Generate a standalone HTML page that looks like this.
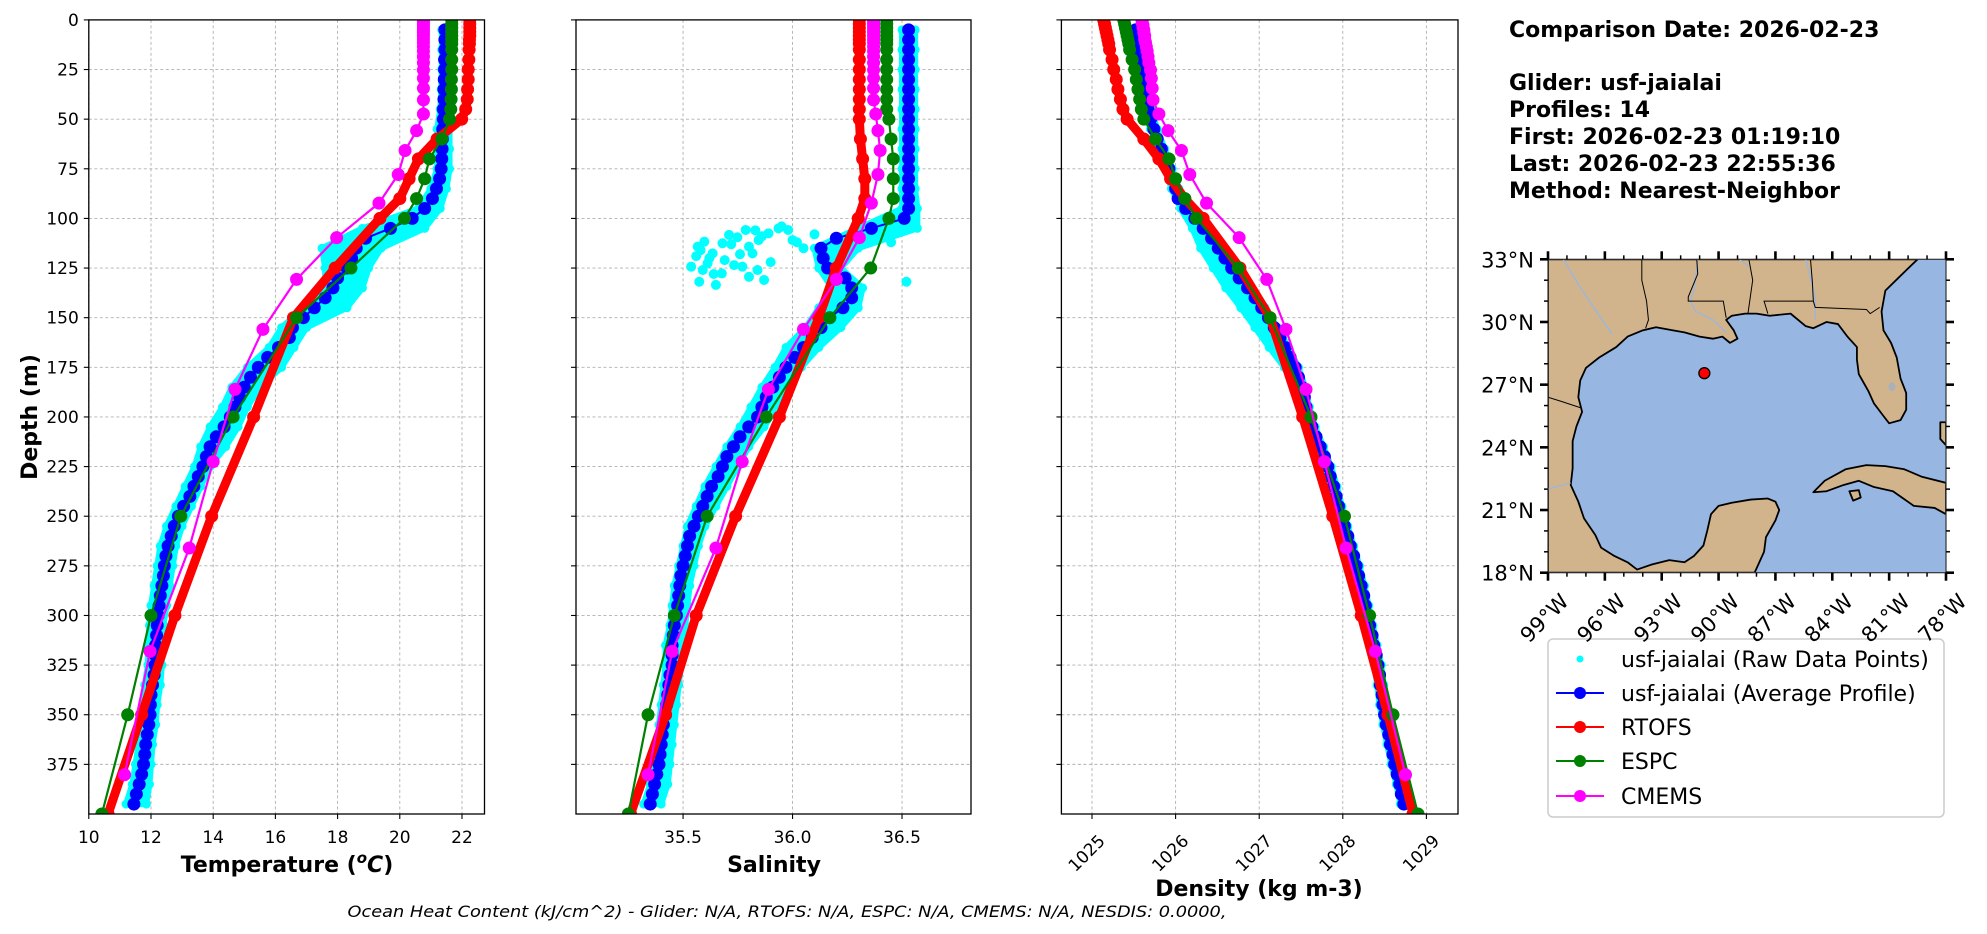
<!DOCTYPE html>
<html><head><meta charset="utf-8"><title>Glider vs model profiles</title>
<style>
html,body{margin:0;padding:0;background:#fff;}
svg{display:block;font-family:"DejaVu Sans","Liberation Sans",sans-serif;}
</style></head>
<body>
<svg id="chart" xmlns="http://www.w3.org/2000/svg" width="1987" height="934" viewBox="0 0 1987 934">
<rect x="0" y="0" width="1987" height="934" fill="#fff"/>
<g font-weight="bold" font-size="22" fill="#000">
<text x="1509" y="37">Comparison Date: 2026-02-23</text>
<text x="1509" y="90">Glider: usf-jaialai</text>
<text x="1509" y="117">Profiles: 14</text>
<text x="1509" y="144">First: 2026-02-23 01:19:10</text>
<text x="1509" y="171">Last: 2026-02-23 22:55:36</text>
<text x="1509" y="198">Method: Nearest-Neighbor</text>
</g>
<text x="787" y="917" text-anchor="middle" font-size="16" font-style="italic" textLength="879" lengthAdjust="spacingAndGlyphs">Ocean Heat Content (kJ/cm^2) - Glider: N/A,  RTOFS: N/A,  ESPC: N/A,  CMEMS: N/A,  NESDIS: 0.0000,</text>
<text transform="translate(37,417) rotate(-90)" text-anchor="middle" font-size="22" font-weight="bold">Depth (m)</text>
<text x="287" y="872" text-anchor="middle" font-size="22" font-weight="bold">Temperature (<tspan font-style="italic" font-size="15" dy="-9">o</tspan><tspan font-style="italic" dy="9">C</tspan>)</text>
<text x="774" y="872" text-anchor="middle" font-size="22" font-weight="bold">Salinity</text>
<text x="1259" y="896" text-anchor="middle" font-size="22" font-weight="bold">Density (kg m-3)</text>
<g>
<rect x="1548" y="639" width="396" height="178" rx="5" fill="#fff" stroke="#ccc" stroke-width="1.5"/>
<g><circle cx="1580" cy="659" r="3.5" fill="#00ffff"/><text x="1621" y="667" font-size="22">usf-jaialai (Raw Data Points)</text></g>
<g><line x1="1556" y1="693" x2="1604" y2="693" stroke="#0000ff" stroke-width="2"/><circle cx="1580" cy="693" r="6" fill="#0000ff"/><text x="1621" y="701" font-size="22">usf-jaialai (Average Profile)</text></g>
<g><line x1="1556" y1="727" x2="1604" y2="727" stroke="#ff0000" stroke-width="2"/><circle cx="1580" cy="727" r="6" fill="#ff0000"/><text x="1621" y="735" font-size="22">RTOFS</text></g>
<g><line x1="1556" y1="761" x2="1604" y2="761" stroke="#008000" stroke-width="2"/><circle cx="1580" cy="761" r="6" fill="#008000"/><text x="1621" y="769" font-size="22">ESPC</text></g>
<g><line x1="1556" y1="796" x2="1604" y2="796" stroke="#ff00ff" stroke-width="2"/><circle cx="1580" cy="796" r="6" fill="#ff00ff"/><text x="1621" y="804" font-size="22">CMEMS</text></g>
</g>
</svg>
<script>
// ---------- data ----------
const gliderDepth = [5,10,15,20,25,30,35,40,45,50,55,60,65,70,75,80,85,90,95,100,105,110,115,120,125,130,135,140,145,150,155,160,165,170,175,180,185,190,195,200,205,210,215,220,225,230,235,240,245,250,255,260,265,270,275,280,285,290,295,300,305,310,315,320,325,330,335,340,345,350,355,360,365,370,375,380,385,390,395];
const gliderTemp = [21.45,21.45,21.45,21.44,21.44,21.43,21.42,21.42,21.40,21.40,
21.38,21.37,21.36,21.35,21.33,21.28,21.18,21.05,20.8,20.4,
19.7,18.9,18.6,18.45,18.3,18.0,17.85,17.6,17.25,16.9,
16.55,16.45,16.1,15.75,15.45,15.2,15.0,14.85,14.7,14.55,
14.35,14.1,13.9,13.78,13.67,13.52,13.38,13.25,13.05,12.88,
12.75,12.65,12.55,12.48,12.43,12.4,12.35,12.3,12.26,12.23,
12.2,12.18,12.15,12.14,12.13,12.1,12.05,12.0,11.98,11.97,
11.93,11.88,11.83,11.8,11.76,11.7,11.62,11.53,11.45];
const gliderSal = [36.53,36.53,36.53,36.53,36.53,36.53,36.53,36.53,36.53,36.53,
36.53,36.53,36.53,36.53,36.53,36.53,36.53,36.53,36.53,36.51,
36.36,36.20,36.13,36.14,36.16,36.24,36.27,36.27,36.23,36.17,
36.13,36.09,36.05,36.01,35.97,35.94,35.91,35.88,35.86,35.84,
35.80,35.76,35.73,35.70,35.68,35.66,35.63,35.61,35.59,35.57,
35.55,35.53,35.52,35.51,35.50,35.49,35.485,35.48,35.475,35.47,
35.46,35.455,35.45,35.45,35.45,35.44,35.435,35.43,35.425,35.42,
35.41,35.405,35.40,35.395,35.39,35.38,35.37,35.36,35.35];
const gliderDens = [1025.52,1025.53,1025.54,1025.56,1025.58,1025.60,1025.62,1025.64,1025.67,1025.70,
1025.74,1025.78,1025.83,1025.88,1025.92,1025.96,1026.00,1026.03,1026.12,1026.23,
1026.33,1026.43,1026.51,1026.59,1026.67,1026.76,1026.86,1026.95,1027.03,1027.11,
1027.18,1027.25,1027.31,1027.37,1027.43,1027.47,1027.51,1027.54,1027.56,1027.58,
1027.63,1027.68,1027.73,1027.78,1027.82,1027.85,1027.89,1027.92,1027.95,1027.98,
1028.02,1028.06,1028.09,1028.13,1028.16,1028.19,1028.22,1028.25,1028.27,1028.30,
1028.32,1028.35,1028.37,1028.40,1028.42,1028.44,1028.45,1028.47,1028.48,1028.50,
1028.52,1028.55,1028.57,1028.60,1028.62,1028.65,1028.68,1028.70,1028.73];

const rawDepth = [5,15,25,35,45,55,65,75,85,95,105,115,125,135,145,155,165,175,185,195,205,215,225,235,245,255,265,275,285,295,305,315,325,335,345,355,365,375,385,395];
const rawTempLo = [21.35,21.35,21.35,21.33,21.3,21.2,21.2,21.2,21.0,20.6,18.8,17.5,17.6,17.6,16.9,16.2,15.8,15.1,14.6,14.3,13.9,13.6,13.4,13.1,12.8,12.5,12.3,12.2,12.1,12.0,11.95,11.9,11.9,11.8,11.75,11.7,11.6,11.5,11.4,11.2];
const rawTempHi = [21.6,21.6,21.6,21.6,21.6,21.6,21.6,21.6,21.5,21.3,20.8,19.4,19.0,18.8,18.3,17.0,16.6,16.2,15.5,15.1,14.8,14.4,13.9,13.6,13.3,13.0,12.8,12.7,12.6,12.5,12.4,12.35,12.35,12.3,12.2,12.15,12.05,12.0,11.95,11.85];
const rawSalLo = [36.50,36.50,36.50,36.50,36.50,36.50,36.50,36.50,36.50,36.50,36.3,36.1,36.12,36.18,36.12,36.06,35.97,35.92,35.86,35.81,35.76,35.7,35.65,35.6,35.56,35.52,35.5,35.48,35.46,35.45,35.44,35.42,35.42,35.41,35.4,35.39,35.38,35.37,35.35,35.32];
const rawSalHi = [36.56,36.56,36.56,36.56,36.56,36.56,36.56,36.56,36.56,36.57,36.57,36.3,36.22,36.32,36.3,36.22,36.12,36.04,35.98,35.93,35.87,35.8,35.75,35.7,35.65,35.6,35.57,35.55,35.53,35.52,35.51,35.49,35.49,35.48,35.47,35.46,35.45,35.44,35.43,35.4];
const rawSalOutDepth = [114.2,111.7,122.6,131.9,133.5,112.5,127.7,109.5,105.8,114.2,117.6,124.3,123.5,129.4,131,110.9,107.5,105,105.8,110.9,124.3,117.6,108.3,131.9,119,126,116,120,113,128,121,106,109,118,126,104,112,122,115,108,112];
const rawSalOutVal = [35.567,35.597,35.612,35.574,35.65,35.68,35.677,35.748,35.786,35.801,35.817,35.771,35.733,35.801,35.87,35.845,35.89,35.936,35.98,36.0,35.537,35.635,35.71,36.52,35.56,35.59,35.58,35.62,35.72,35.64,35.69,35.83,35.86,35.76,35.84,35.95,36.02,35.9,36.05,36.1,36.45];
const rawDensLo = [1025.48,1025.5,1025.54,1025.58,1025.63,1025.7,1025.79,1025.88,1025.95,1026.06,1026.2,1026.3,1026.45,1026.6,1026.78,1026.95,1027.12,1027.3,1027.42,1027.5,1027.58,1027.69,1027.78,1027.85,1027.91,1027.98,1028.05,1028.12,1028.18,1028.23,1028.28,1028.33,1028.38,1028.41,1028.44,1028.48,1028.53,1028.58,1028.64,1028.69];
const rawDensHi = [1025.56,1025.58,1025.62,1025.66,1025.71,1025.78,1025.87,1025.96,1026.04,1026.16,1026.38,1026.55,1026.72,1026.9,1027.07,1027.22,1027.35,1027.47,1027.55,1027.6,1027.67,1027.77,1027.86,1027.93,1027.99,1028.06,1028.13,1028.2,1028.26,1028.31,1028.36,1028.41,1028.46,1028.49,1028.52,1028.56,1028.61,1028.66,1028.72,1028.77];

const modelDepth = [0,2,4,6,8,10,12,15,20,25,30,35,40,45,50,60,70,80,90,100,125,150,200,250,300,350,400];
const rtofsTemp = [22.25,22.25,22.25,22.25,22.25,22.24,22.24,22.23,22.22,22.2,22.2,22.18,22.17,22.12,21.99,21.2,20.6,20.3,20.0,19.36,17.92,16.58,15.3,13.95,12.77,11.7,10.62];
const rtofsSal = [36.305,36.305,36.305,36.305,36.305,36.305,36.305,36.305,36.305,36.305,36.305,36.305,36.305,36.305,36.305,36.31,36.32,36.33,36.33,36.30,36.20,36.12,35.94,35.74,35.56,35.42,35.26];
const rtofsDens = [1025.14,1025.15,1025.16,1025.17,1025.18,1025.19,1025.2,1025.21,1025.24,1025.26,1025.29,1025.31,1025.34,1025.37,1025.42,1025.62,1025.80,1025.94,1026.11,1026.33,1026.77,1027.13,1027.52,1027.88,1028.22,1028.54,1028.84];
const espcTemp = [21.67,21.67,21.67,21.67,21.67,21.67,21.67,21.67,21.67,21.67,21.66,21.66,21.65,21.64,21.6,21.35,20.95,20.8,20.54,20.15,18.43,16.68,14.64,12.96,12.0,11.25,10.42];
const espcSal = [36.43,36.43,36.43,36.43,36.43,36.43,36.43,36.43,36.43,36.43,36.43,36.43,36.43,36.43,36.44,36.45,36.46,36.46,36.46,36.44,36.357,36.17,35.88,35.61,35.46,35.34,35.25];
const espcDens = [1025.38,1025.39,1025.40,1025.41,1025.42,1025.43,1025.44,1025.45,1025.48,1025.51,1025.53,1025.55,1025.57,1025.59,1025.62,1025.76,1025.92,1026.0,1026.11,1026.25,1026.75,1027.13,1027.62,1028.02,1028.32,1028.60,1028.90];
const cmemsDepth = [0.5,1.5,2.6,3.8,5.1,6.4,7.9,9.6,11.4,13.5,15.8,18.5,21.6,25.2,29.4,34.4,40.3,47.4,55.8,65.8,77.9,92.3,109.7,130.7,155.9,186.1,222.5,266.0,318.1,380.2];
const cmemsTemp = [20.76,20.76,20.76,20.76,20.76,20.76,20.76,20.76,20.76,20.76,20.76,20.76,20.76,20.76,20.76,20.76,20.76,20.76,20.54,20.17,19.95,19.33,17.97,16.68,15.6,14.7,14.0,13.23,11.97,11.15];
const cmemsSal = [36.37,36.37,36.37,36.37,36.37,36.37,36.37,36.37,36.37,36.37,36.37,36.37,36.37,36.37,36.37,36.37,36.37,36.38,36.39,36.40,36.39,36.36,36.305,36.20,36.05,35.89,35.77,35.65,35.45,35.34];
const cmemsDens = [1025.60,1025.60,1025.61,1025.61,1025.62,1025.62,1025.63,1025.63,1025.64,1025.65,1025.66,1025.67,1025.68,1025.70,1025.71,1025.72,1025.73,1025.80,1025.91,1026.07,1026.17,1026.37,1026.76,1027.09,1027.32,1027.56,1027.78,1028.04,1028.39,1028.75];

const depthTicks = [0,25,50,75,100,125,150,175,200,225,250,275,300,325,350,375];
const tempTicks = [10,12,14,16,18,20,22];
const salTicks = [35.5,36.0,36.5];
const salTickLabels = ["35.5","36.0","36.5"];
const densTicks = [1025,1026,1027,1028,1029];

const gliderLonLat = [-90.75, 27.55];
const latTicks = [18,21,24,27,30,33];
const lonTicks = [-99,-96,-93,-90,-87,-84,-81,-78];
const coastMain = [[-99,33],[-79.5,33],[-80.3,32.3],[-81.2,31.5],[-81.4,30.5],[-81.3,29.6],[-80.9,29],[-80.6,28.3],[-80.4,27.3],[-80.1,26.6],[-80.1,25.8],[-80.4,25.3],[-81,25.15],[-81.3,25.5],[-81.8,26.1],[-82.1,26.7],[-82.6,27.5],[-82.7,28.2],[-82.7,28.8],[-83.2,29.3],[-83.7,29.9],[-84.3,30.0],[-85,29.7],[-85.4,29.8],[-86.2,30.4],[-87.3,30.3],[-88,30.4],[-88.6,30.4],[-89.3,30.3],[-89.6,30.1],[-89.2,29.6],[-89.0,29.2],[-89.4,29.0],[-89.8,29.3],[-90.3,29.2],[-91.0,29.3],[-91.8,29.5],[-92.4,29.6],[-93.3,29.75],[-94.0,29.6],[-94.8,29.3],[-95.4,28.8],[-96.3,28.3],[-97.0,27.8],[-97.3,27.2],[-97.4,26.4],[-97.2,25.7],[-97.5,25],[-97.7,24.3],[-97.7,23.0],[-97.8,22.2],[-97.4,21.4],[-97.1,20.6],[-96.5,19.8],[-96.2,19.2],[-95.5,18.8],[-94.8,18.5],[-94.3,18.15],[-93.5,18.4],[-92.6,18.6],[-91.8,18.5],[-91.3,18.8],[-90.8,19.3],[-90.6,20.0],[-90.4,20.8],[-90.0,21.2],[-89.3,21.35],[-88.3,21.5],[-87.4,21.55],[-87.0,21.4],[-86.8,21.0],[-87.0,20.5],[-87.5,19.7],[-87.6,19.0],[-87.9,18.4],[-88.1,18.0],[-99,18]];
const coastCuba = [[-85.0,21.85],[-84.4,22.4],[-83.3,22.95],[-82.2,23.15],[-81.2,23.1],[-80.2,22.95],[-79.3,22.6],[-78,22.3],[-78,20.8],[-78.6,21.1],[-79.7,21.2],[-80.8,21.9],[-81.8,22.1],[-82.6,22.4],[-83.4,22.2],[-84.3,21.9]];
const coastIsle = [[-83.1,21.9],[-82.6,21.95],[-82.5,21.6],[-82.9,21.45]];
const coastAndros = [[-78.3,25.2],[-78,25.2],[-78,24.1],[-78.3,24.4]];
const borderLines = [
 [[-94.05,33],[-94.05,32],[-93.8,31],[-93.7,30.1],[-93.85,29.7]],
 [[-91.15,33],[-91.1,32.3],[-91.6,31.2],[-91.6,31.0],[-89.75,31.0],[-89.6,30.2]],
 [[-88.4,33],[-88.2,32],[-88.45,30.4]],
 [[-85.15,33],[-85.05,31.9],[-85.0,31.0],[-87.6,31.0],[-87.4,30.4]],
 [[-85.0,31.0],[-84.9,30.7],[-82.2,30.6],[-82.0,30.4],[-81.5,30.7]],
 [[-99,26.4],[-98.3,26.2],[-97.3,25.9]]
];
const riverLines = [
 [[-91.1,33],[-91.3,31.5],[-91.5,31.0],[-91.2,30.5],[-90.3,30.1],[-89.6,29.5]],
 [[-98.2,33],[-97.4,31.8],[-96.3,30.3],[-95.6,29.4]],
 [[-99,22.0],[-97.8,22.3]],
 [[-88.9,33],[-88.3,32.6]],
 [[-85.4,33],[-84.9,31.2],[-84.9,30.1]]
];

// ---------- helpers ----------
const NS = 'http://www.w3.org/2000/svg';
const svg = document.getElementById('chart');
function mk(tag, attrs, parent) {
  const e = document.createElementNS(NS, tag);
  for (const k in attrs) e.setAttribute(k, attrs[k]);
  (parent || svg).appendChild(e);
  return e;
}
const TOP = 19.9, BOT = 814, DMAX = 400;
function yOf(d) { return TOP + d * (BOT - TOP) / DMAX; }

const panels = [
  {key:'temperature', left:88.8, right:484.5, min:10, max:22.724},
  {key:'salinity', left:576, right:971, min:35.011, max:36.815},
  {key:'density', left:1061.4, right:1458, min:1024.634, max:1029.378}
];
function xScaleFor(p) { return v => p.left + (v - p.min) * (p.right - p.left) / (p.max - p.min); }

const defs = mk('defs', {});
panels.forEach((p, i) => {
  const cp = mk('clipPath', {id:'clip' + i}, defs);
  mk('rect', {x:p.left, y:TOP, width:p.right - p.left, height:BOT - TOP}, cp);
});

function drawGrid(p, xTicks, g) {
  const xs = xScaleFor(p);
  depthTicks.forEach(d => {
    const l = mk('line', {x1:p.left, x2:p.right, y1:yOf(d), y2:yOf(d), stroke:'#b0b0b0', 'stroke-width':0.9, 'stroke-dasharray':'3,2.5'}, g);
    
    
  });
  xTicks.forEach(v => {
    const l = mk('line', {x1:xs(v), x2:xs(v), y1:TOP, y2:BOT, stroke:'#b0b0b0', 'stroke-width':0.9, 'stroke-dasharray':'3,2.5'}, g);
    
    
  });
}
function drawRaw(p, lo, hi, g) {
  const xs = xScaleFor(p);
  let pts = rawDepth.map((d, i) => xs(lo[i]) + ',' + yOf(d));
  pts = pts.concat(rawDepth.map((d, i) => xs(hi[i]) + ',' + yOf(d)).reverse());
  const band = mk('polygon', {points:pts.join(' '), fill:'#00ffff', stroke:'#00ffff', 'stroke-width':6, 'stroke-linejoin':'round'}, g);
  
  
  rawDepth.forEach((d, i) => {
    [lo[i], hi[i]].forEach(v => {
      const c = mk('circle', {cx:xs(v), cy:yOf(d), r:4.5, fill:'#00ffff'}, g);
      
      
    });
  });
}
function drawSeries(p, depths, vals, color, lw, r, name, g) {
  const xs = xScaleFor(p);
  const pl = mk('polyline', {points:depths.map((d, i) => xs(vals[i]) + ',' + yOf(d)).join(' '), fill:'none', stroke:color, 'stroke-width':lw, 'stroke-linejoin':'round'}, g);
  
  
  depths.forEach((d, i) => {
    const c = mk('circle', {cx:xs(vals[i]), cy:yOf(d), r:r, fill:color}, g);
    
    
  });
}
function drawFrame(p, xTicks, xLabels, showY, rotate, g) {
  const xs = xScaleFor(p);
  const f = mk('rect', {x:p.left, y:TOP, width:p.right - p.left, height:BOT - TOP, fill:'none', stroke:'#000', 'stroke-width':1.3}, g);
  
  
  depthTicks.forEach(d => {
    const t = mk('line', {x1:p.left - 5, x2:p.left, y1:yOf(d), y2:yOf(d), stroke:'#000', 'stroke-width':1.1}, g);
    
    
    if (showY) {
      const tx = mk('text', {x:p.left - 10, y:yOf(d) + 6, 'text-anchor':'end', 'font-size':17}, g);
      tx.textContent = String(d);
      
      
    }
  });
  xTicks.forEach((v, i) => {
    const x = xs(v);
    const t = mk('line', {x1:x, x2:x, y1:BOT, y2:BOT + 5, stroke:'#000', 'stroke-width':1.1}, g);
    
    
    let tx;
    if (rotate) {
      tx = mk('text', {x:x + 14, y:BOT + 28, 'text-anchor':'end', 'font-size':17, transform:'rotate(-45 ' + (x + 14) + ' ' + (BOT + 28) + ')'}, g);
    } else {
      tx = mk('text', {x:x, y:BOT + 29, 'text-anchor':'middle', 'font-size':17}, g);
    }
    tx.textContent = xLabels[i];
    
    
  });
}

function buildPanel(i, xTicks, xLabels, showY, rotate, rawLo, rawHi, glider, rtofs, espc, cmems) {
  const p = panels[i];
  const g = mk('g', {});
  
  
  drawGrid(p, xTicks, g);
  const dg = mk('g', {'clip-path':'url(#clip' + i + ')'}, g);
  
  
  drawRaw(p, rawLo, rawHi, dg);
  if (i === 1) {
    const xs = xScaleFor(p);
    rawSalOutDepth.forEach((d, k) => {
      const c = mk('circle', {cx:xs(rawSalOutVal[k]), cy:yOf(d), r:5, fill:'#00ffff'}, dg);
      
      
    });
  }
  drawSeries(p, gliderDepth, glider, '#0000ff', 2, 6.5, 'glider-average', dg);
  drawSeries(p, modelDepth, rtofs, '#ff0000', 9, 6.5, 'rtofs', dg);
  drawSeries(p, modelDepth, espc, '#008000', 2.2, 6.5, 'espc', dg);
  drawSeries(p, cmemsDepth, cmems, '#ff00ff', 2.2, 6.5, 'cmems', dg);
  drawFrame(p, xTicks, xLabels, showY, rotate, g);
}
buildPanel(0, tempTicks, tempTicks.map(String), true, false, rawTempLo, rawTempHi, gliderTemp, rtofsTemp, espcTemp, cmemsTemp);
buildPanel(1, salTicks, salTickLabels, false, false, rawSalLo, rawSalHi, gliderSal, rtofsSal, espcSal, cmemsSal);
buildPanel(2, densTicks, densTicks.map(String), false, true, rawDensLo, rawDensHi, gliderDens, rtofsDens, espcDens, cmemsDens);

// ---------- map ----------
const M = {left:1548, right:1946, top:259.3, bottom:572.7, lonMin:-99, lonMax:-78, latMin:18, latMax:33};
function mx(lon) { return M.left + (lon - M.lonMin) * (M.right - M.left) / (M.lonMax - M.lonMin); }
function my(lat) { return M.top + (M.latMax - lat) * (M.bottom - M.top) / (M.latMax - M.latMin); }
function ptsOf(arr) { return arr.map(q => mx(q[0]) + ',' + my(q[1])).join(' '); }
const mg = mk('g', {});


const mcp = mk('clipPath', {id:'mapclip'}, defs);
mk('rect', {x:M.left, y:M.top, width:M.right - M.left, height:M.bottom - M.top}, mcp);
const mgc = mk('g', {'clip-path':'url(#mapclip)'}, mg);
const ocean = mk('rect', {x:M.left, y:M.top, width:M.right - M.left, height:M.bottom - M.top, fill:'#97b6e1'}, mgc);


[[coastMain,'mainland'],[coastCuba,'cuba'],[coastIsle,'isla-juventud'],[coastAndros,'andros']].forEach(c => {
  const pg = mk('polygon', {points:ptsOf(c[0]), fill:'#d2b48c', stroke:'#000', 'stroke-width':1.8, 'stroke-linejoin':'round'}, mgc);
  
  
});
riverLines.forEach(r => {
  const pl = mk('polyline', {points:ptsOf(r), fill:'none', stroke:'#97b6e1', 'stroke-width':1.3}, mgc);
  
  
});
borderLines.forEach(b => {
  const pl = mk('polyline', {points:ptsOf(b), fill:'none', stroke:'#000', 'stroke-width':1}, mgc);
  
  
});
const lake = mk('ellipse', {cx:mx(-80.85), cy:my(26.9), rx:3.5, ry:4.5, fill:'#aab0b8'}, mgc);


const gdot = mk('circle', {cx:mx(gliderLonLat[0]), cy:my(gliderLonLat[1]), r:5.5, fill:'#ff0000', stroke:'#000', 'stroke-width':1.3}, mgc);


const mframe = mk('rect', {x:M.left, y:M.top, width:M.right - M.left, height:M.bottom - M.top, fill:'none', stroke:'#333', 'stroke-width':1.2}, mg);


for (let lat = 18; lat <= 33; lat++) {
  const major = latTicks.indexOf(lat) >= 0;
  const L = major ? 8 : 4, W = major ? 2.6 : 1.5;
  const t1 = mk('line', {x1:M.left - L, x2:M.left, y1:my(lat), y2:my(lat), stroke:'#000', 'stroke-width':W}, mg);
  
  
  const t2 = mk('line', {x1:M.right, x2:M.right + L, y1:my(lat), y2:my(lat), stroke:'#000', 'stroke-width':W}, mg);
  
  
  if (major) {
    const tx = mk('text', {x:M.left - 14, y:my(lat) + 8, 'text-anchor':'end', 'font-size':21}, mg);
    tx.textContent = lat + '\u00b0N';
    
    
  }
}
for (let lon = -99; lon <= -78; lon++) {
  const major = lonTicks.indexOf(lon) >= 0;
  const L = major ? 8 : 4, W = major ? 2.6 : 1.5;
  const t1 = mk('line', {x1:mx(lon), x2:mx(lon), y1:M.bottom, y2:M.bottom + L, stroke:'#000', 'stroke-width':W}, mg);
  
  
  const t2 = mk('line', {x1:mx(lon), x2:mx(lon), y1:M.top - L, y2:M.top, stroke:'#000', 'stroke-width':W}, mg);
  
  
  if (major) {
    const ax = mx(lon) + 22, ay = M.bottom + 30;
    const tx = mk('text', {x:ax, y:ay, 'text-anchor':'end', 'font-size':21, transform:'rotate(-45 ' + ax + ' ' + ay + ')'}, mg);
    tx.textContent = (-lon) + '\u00b0W';
    
    
  }
}
</script>
</body></html>
